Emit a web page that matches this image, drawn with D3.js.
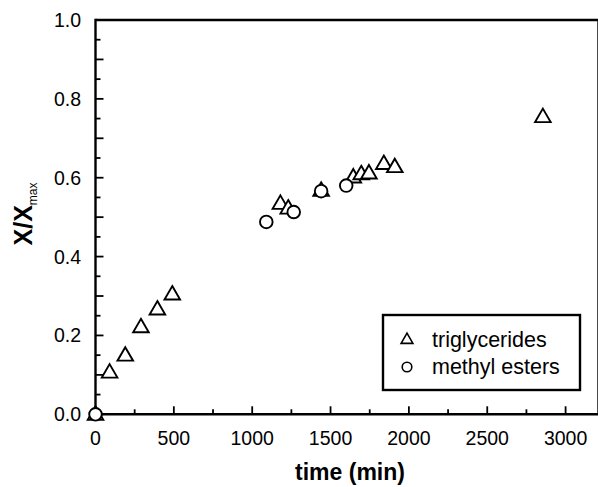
<!DOCTYPE html>
<html>
<head>
<meta charset="utf-8">
<script src="https://cdn.jsdelivr.net/npm/d3@7"></script>
<style>
  body { margin: 0; background: #fff; }
  text { font-family: Arial, "Liberation Sans", sans-serif; }
</style>
</head>
<body>
<script>
// triglycerides series
var triTime = [0, 90, 190, 290, 395, 490, 1180, 1230, 1440, 1645, 1696, 1745, 1840, 1910, 2855];
var triX = [0.0, 0.107, 0.15, 0.222, 0.267, 0.305, 0.535, 0.523, 0.568, 0.602, 0.61, 0.612, 0.636, 0.628, 0.755];
// methyl esters series
var meTime = [0, 1090, 1265, 1440, 1600];
var meX = [0.0, 0.488, 0.513, 0.566, 0.58];

var xTicks = [0, 500, 1000, 1500, 2000, 2500, 3000];
var yTicks = [0.0, 0.2, 0.4, 0.6, 0.8, 1.0];

var width = 598, height = 487;
var svg = d3.select("body").append("svg")
  .attr("width", width).attr("height", height);

var x = d3.scaleLinear().domain([0, 3210]).range([95.5, 598.5]);
var y = d3.scaleLinear().domain([0, 1]).range([414.3, 20]);

// frame (top + right, right falls off the page)
svg.append("path")
  .attr("d", "M" + x(0) + "," + y(1) + "H" + x(3210) + "V" + y(0))
  .attr("fill", "none").attr("stroke", "#000").attr("stroke-width", 2.4);

// x axis: inward ticks
var xMinor = d3.range(0, 3201, 250);
svg.append("g").selectAll("line").data(xMinor).enter().append("line")
  .attr("x1", function (d) { return x(d); })
  .attr("x2", function (d) { return x(d); })
  .attr("y1", y(0))
  .attr("y2", function (d) { return y(0) - (d % 500 === 0 ? 8 : 5); })
  .attr("stroke", "#000").attr("stroke-width", 1.8);

svg.append("line")
  .attr("x1", x(0)).attr("x2", width).attr("y1", y(0)).attr("y2", y(0))
  .attr("stroke", "#000").attr("stroke-width", 2.4);

svg.append("g").selectAll("text").data(xTicks).enter().append("text")
  .attr("x", function (d) { return x(d); })
  .attr("y", y(0) + 31)
  .attr("text-anchor", "middle")
  .style("font-size", "19.5px")
  .text(function (d) { return d; });

// y axis: inward ticks
var yMinor = d3.range(0, 21).map(function (i) { return i * 0.05; });
svg.append("g").selectAll("line").data(yMinor).enter().append("line")
  .attr("x1", x(0))
  .attr("x2", function (d, i) { return x(0) + (i % 2 === 0 ? 8 : 5); })
  .attr("y1", function (d) { return y(d); })
  .attr("y2", function (d) { return y(d); })
  .attr("stroke", "#000").attr("stroke-width", 1.8);

svg.append("line")
  .attr("x1", x(0)).attr("x2", x(0)).attr("y1", y(1) - 1.2).attr("y2", y(0) + 1.2)
  .attr("stroke", "#000").attr("stroke-width", 2.4);

svg.append("g").selectAll("text").data(yTicks).enter().append("text")
  .attr("x", 81)
  .attr("y", function (d) { return y(d) + 7; })
  .attr("text-anchor", "end")
  .style("font-size", "19.5px")
  .text(function (d) { return d.toFixed(1); });

// axis titles
svg.append("text")
  .attr("x", 350).attr("y", 480)
  .attr("text-anchor", "middle")
  .style("font-size", "23px").style("font-weight", "bold")
  .text("time (min)");

var yl = svg.append("text")
  .attr("transform", "translate(32," + 214 + ") rotate(-90)")
  .attr("text-anchor", "middle")
  .style("font-size", "25px").style("font-weight", "bold");
yl.append("tspan").text("X/X");
yl.append("tspan").attr("dy", 5).style("font-size", "12px").style("font-weight", "normal").text("max");

// markers
var triSym = d3.symbol().type(d3.symbolTriangle).size(105);
var triData = triTime.map(function (t, i) { return { t: t, v: triX[i] }; });
var meData = meTime.map(function (t, i) { return { t: t, v: meX[i] }; });

svg.append("g").selectAll("path").data(triData).enter().append("path")
  .attr("d", triSym)
  .attr("transform", function (d) { return "translate(" + x(d.t) + "," + (y(d.v) + 1) + ")"; })
  .attr("fill", "#fff").attr("stroke", "#000").attr("stroke-width", 1.9);

svg.append("g").selectAll("circle").data(meData).enter().append("circle")
  .attr("cx", function (d) { return x(d.t); })
  .attr("cy", function (d) { return y(d.v); })
  .attr("r", 6.3)
  .attr("fill", "#fff").attr("stroke", "#000").attr("stroke-width", 1.9);

// legend
var lg = svg.append("g");
lg.append("rect")
  .attr("x", 383).attr("y", 315).attr("width", 197).attr("height", 75)
  .attr("fill", "#fff").attr("stroke", "#000").attr("stroke-width", 2.4);
lg.append("path")
  .attr("d", d3.symbol().type(d3.symbolTriangle).size(60))
  .attr("transform", "translate(407,340)")
  .attr("fill", "#fff").attr("stroke", "#000").attr("stroke-width", 1.6);
lg.append("circle")
  .attr("cx", 407).attr("cy", 367).attr("r", 4.8)
  .attr("fill", "#fff").attr("stroke", "#000").attr("stroke-width", 1.6);
lg.append("text").attr("x", 432).attr("y", 347).style("font-size", "21.5px").text("triglycerides");
lg.append("text").attr("x", 432).attr("y", 374).style("font-size", "21.5px").text("methyl esters");
</script>
</body>
</html>
